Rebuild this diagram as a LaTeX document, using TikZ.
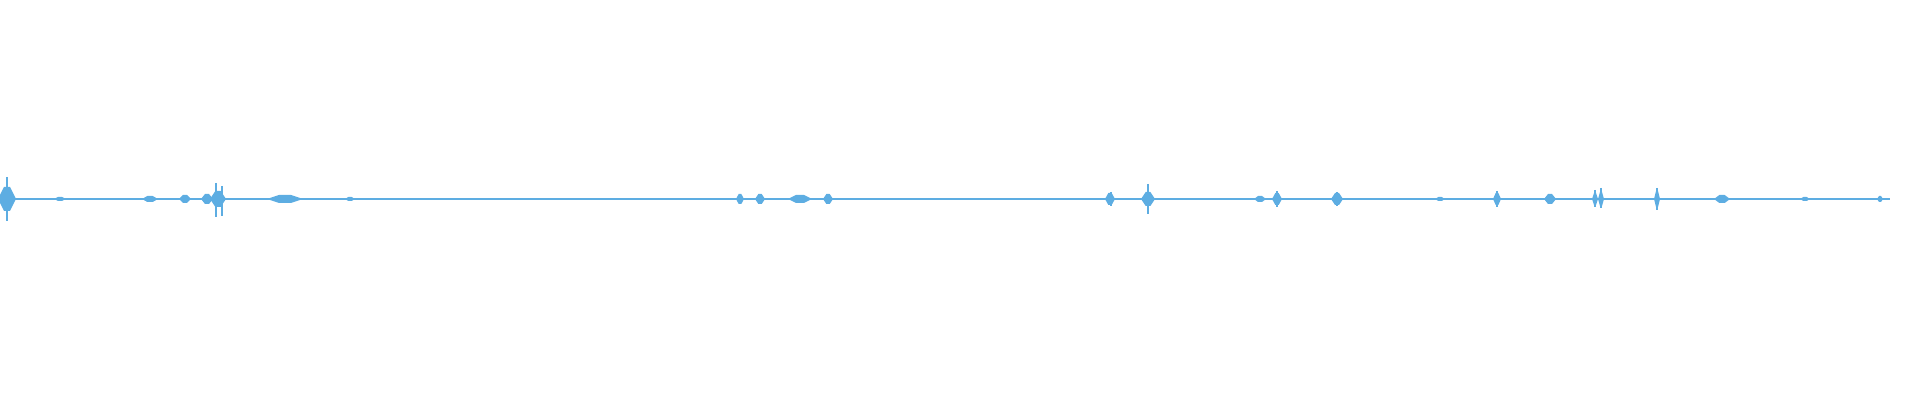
\documentclass[tikz,border=0pt]{standalone}
\usepackage{tikz}
\definecolor{wave}{RGB}{93,173,226}
\begin{document}
\begin{tikzpicture}
      [
        x=0.5pt,y=0.5pt,
        burst/.style={fill=wave,draw=none},
        spike/.style={draw=wave,line width=0.8pt}
      ]

      \useasboundingbox (0,0) rectangle (1920,400);

      % baseline
      \draw[wave,line width=0.6pt] (0,201) -- (1890,201);

      % envelopes: centre / half height / half width
      \foreach \cx/\amp/\hw in {7/12/9, 60/2/6, 150/3/8, 185/4/6, 207/5/6, 218/8/8,
          285/4/18, 350/2/5, 740/5/4, 760/5/5, 800/4/12, 828/5/5, 1110/6/5,
          1148/7/7, 1260/3/6, 1277/6/5, 1337/6/6, 1440/2/5, 1497/6/4,
          1550/5/6, 1595/6/3, 1601/7/3, 1657/8/3, 1722/4/8, 1805/2/5, 1880/3/3}
      {
        \fill[burst] (\cx-\hw,201) -- (\cx-\hw/3,201+\amp) -- (\cx+\hw/3,201+\amp)
          -- (\cx+\hw,201) -- (\cx+\hw/3,201-\amp) -- (\cx-\hw/3,201-\amp) -- cycle;
      }

      % tall spikes
      \foreach \cx/\up/\dn in {7/22/22, 216/16/18, 222/13/17, 1111/7/7, 1148/15/15,
          1277/8/8, 1337/7/7, 1497/8/8, 1595/9/8, 1601/11/9, 1657/11/11}
      {
        \draw[spike] (\cx,201+\up) -- (\cx,201-\dn);
      }
\end{tikzpicture}
\end{document}
